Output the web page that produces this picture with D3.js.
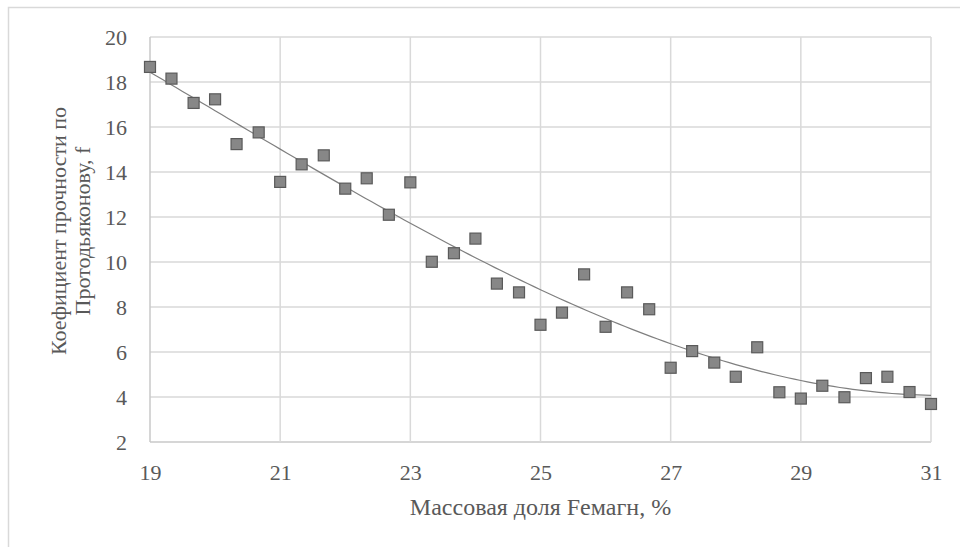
<!DOCTYPE html>
<html>
<head>
<meta charset="utf-8">
<script src="https://cdn.jsdelivr.net/npm/d3@7/dist/d3.min.js"></script>
<style>
  html, body { margin: 0; padding: 0; background: #fff; }
  svg { display: block; }
</style>
</head>
<body>
<svg id="chart" width="960" height="547"></svg>
<script>
// ---- data ----
const xValues = [19, 19.33, 19.67, 20, 20.33, 20.67, 21, 21.33, 21.67, 22, 22.33, 22.67, 23, 23.33, 23.67, 24, 24.33, 24.67, 25, 25.33, 25.67, 26, 26.33, 26.67, 27, 27.33, 27.67, 28, 28.33, 28.67, 29, 29.33, 29.67, 30, 30.33, 30.67, 31];
const yValues = [18.67, 18.15, 17.07, 17.23, 15.24, 15.76, 13.56, 14.34, 14.74, 13.26, 13.72, 12.1, 13.54, 10.01, 10.39, 11.04, 9.04, 8.65, 7.21, 7.75, 9.45, 7.12, 8.65, 7.9, 5.3, 6.04, 5.53, 4.9, 6.21, 4.21, 3.93, 4.5, 3.99, 4.84, 4.9, 4.22, 3.69];
const xTicks = [19, 21, 23, 25, 27, 29, 31];
const yTicks = [2, 4, 6, 8, 10, 12, 14, 16, 18, 20];
const xTitle = "Массовая доля Fемагн, %";
const yTitleLines = ["Коефициент прочности по", "Протодьяконову, f"];

// ---- layout ----
(function () {
const FONT = "'Liberation Serif', 'DejaVu Serif', 'Times New Roman', serif";
const svg = d3.select("#chart");
const W = 960, H = 547;
const pL = 150, pR = 931, pT = 37, pB = 442;

const x = d3.scaleLinear().domain([19, 31]).range([pL, pR]);
const y = d3.scaleLinear().domain([2, 20]).range([pB, pT]);

// outer chart border
svg.append("rect")
  .attr("x", 8.5).attr("y", 7.5)
  .attr("width", W + 20).attr("height", H + 20)
  .attr("fill", "none").attr("stroke", "#d9d9d9").attr("stroke-width", 1.5);

// gridlines
svg.append("g").selectAll("line").data(yTicks).join("line")
  .attr("x1", pL).attr("x2", pR)
  .attr("y1", d => y(d)).attr("y2", d => y(d))
  .attr("stroke", d => d === 2 ? "#c8c8c8" : "#d9d9d9").attr("stroke-width", 1.5);
svg.append("g").selectAll("line").data(xTicks).join("line")
  .attr("y1", pT).attr("y2", pB)
  .attr("x1", d => x(d)).attr("x2", d => x(d))
  .attr("stroke", d => d === 19 ? "#c8c8c8" : "#d9d9d9").attr("stroke-width", 1.5);

// axes (labels only)
const xAxis = d3.axisBottom(x).tickValues(xTicks).tickSize(0).tickPadding(22).tickFormat(d3.format("d"));
const gx = svg.append("g").attr("transform", `translate(0,${pB})`).call(xAxis)
  .attr("font-family", FONT).attr("font-size", 22);
gx.select(".domain").remove();
gx.selectAll("text").attr("fill", "#595959");

const yAxis = d3.axisLeft(y).tickValues(yTicks).tickSize(0).tickPadding(23).tickFormat(d3.format("d"));
const gy = svg.append("g").attr("transform", `translate(${pL},0)`).call(yAxis)
  .attr("font-family", FONT).attr("font-size", 22);
gy.select(".domain").remove();
gy.selectAll("text").attr("fill", "#595959");

// cubic least-squares trend line fitted to the data
function polyFit(xs, ys, order) {
  const n = order + 1;
  const A = Array.from({length: n}, () => new Array(n + 1).fill(0));
  for (let i = 0; i < xs.length; i++) {
    const t = xs[i] - 25;
    for (let r = 0; r < n; r++) {
      for (let c = 0; c < n; c++) A[r][c] += Math.pow(t, r + c);
      A[r][n] += ys[i] * Math.pow(t, r);
    }
  }
  for (let i = 0; i < n; i++) {
    let p = i;
    for (let k = i + 1; k < n; k++) if (Math.abs(A[k][i]) > Math.abs(A[p][i])) p = k;
    [A[i], A[p]] = [A[p], A[i]];
    for (let k = i + 1; k < n; k++) {
      const f = A[k][i] / A[i][i];
      for (let c = i; c <= n; c++) A[k][c] -= f * A[i][c];
    }
  }
  const coef = new Array(n).fill(0);
  for (let i = n - 1; i >= 0; i--) {
    let s = A[i][n];
    for (let c = i + 1; c < n; c++) s -= A[i][c] * coef[c];
    coef[i] = s / A[i][i];
  }
  return xv => coef.reduce((s, c, k) => s + c * Math.pow(xv - 25, k), 0);
}
const fit = polyFit(xValues, yValues, 3);
const trendX = d3.range(19, 31.001, 0.1);
svg.append("path")
  .datum(trendX)
  .attr("fill", "none").attr("stroke", "#7f7f7f").attr("stroke-width", 1.2)
  .attr("d", d3.line().x(d => x(d)).y(d => y(fit(d))));

// markers
const s = 11;
svg.append("g").selectAll("rect").data(xValues.map((d, i) => [d, yValues[i]])).join("rect")
  .attr("x", d => x(d[0]) - s / 2).attr("y", d => y(d[1]) - s / 2)
  .attr("width", s).attr("height", s)
  .attr("fill", "#878787").attr("stroke", "#5a5a5a").attr("stroke-width", 1.2);

// titles
svg.append("text")
  .attr("x", (pL + pR) / 2).attr("y", 515)
  .attr("text-anchor", "middle").attr("font-family", FONT).attr("font-size", 24)
  .attr("fill", "#595959")
  .text(xTitle);

const yt = svg.append("text")
  .attr("transform", `translate(66,231) rotate(-90)`)
  .attr("text-anchor", "middle").attr("font-family", FONT).attr("font-size", 22)
  .attr("fill", "#595959");
yTitleLines.forEach((t, i) => {
  yt.append("tspan").attr("x", 0).attr("dy", i === 0 ? 0 : 24).text(t);
});
})();
</script>
</body>
</html>
